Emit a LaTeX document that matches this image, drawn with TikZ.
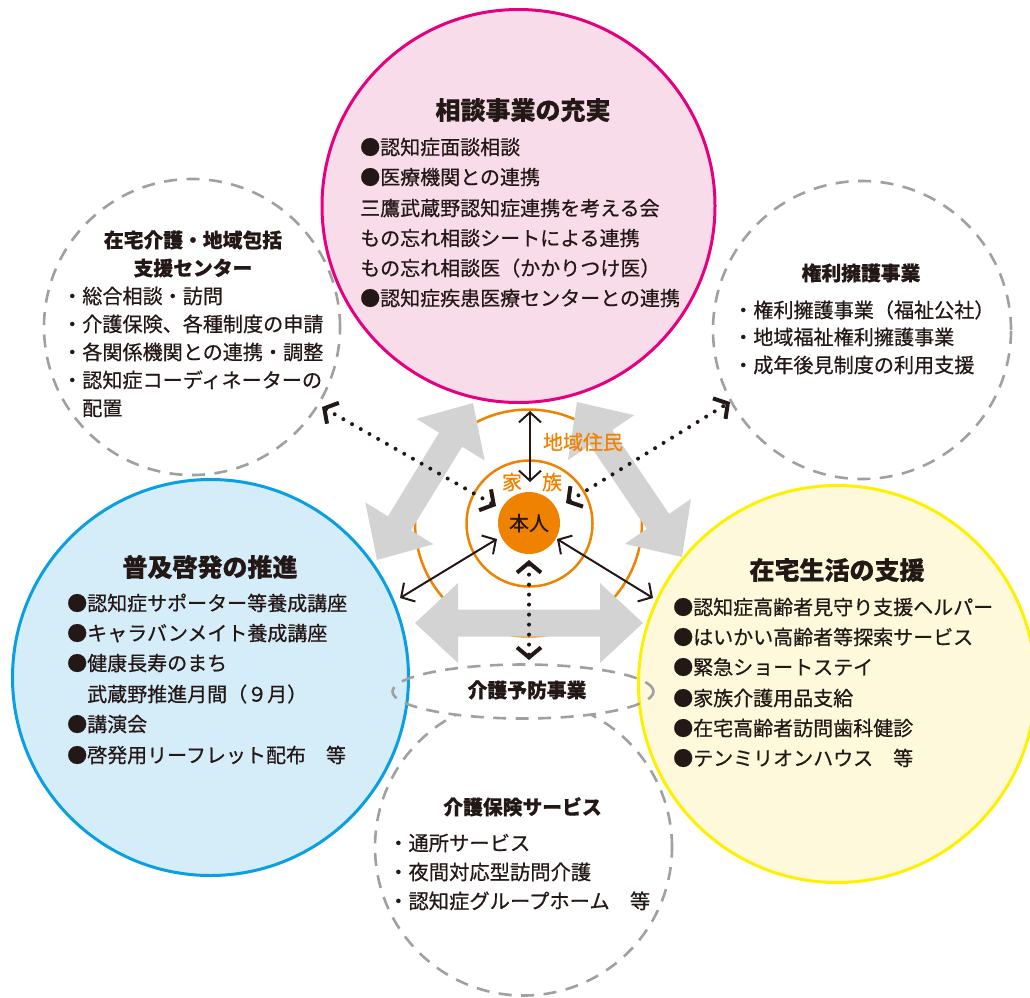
\documentclass[tikz,border=0pt]{standalone}
\usepackage{fontspec}
\setmainfont{Noto Sans CJK JP}[RawFeature={embolden=0.6}]
\usetikzlibrary{arrows.meta,calc,shapes.geometric}
\definecolor{ink}{HTML}{231815}
\definecolor{pinkfill}{HTML}{F9DCEA}
\definecolor{pinkline}{HTML}{E4007F}
\definecolor{bluefill}{HTML}{D5ECF9}
\definecolor{blueline}{HTML}{0A9EE2}
\definecolor{yellowfill}{HTML}{FFF9DC}
\definecolor{yellowline}{HTML}{FFF000}
\definecolor{orng}{HTML}{EF8200}
\definecolor{garrowcol}{HTML}{D3D3D3}
\definecolor{dgray}{HTML}{A0A0A0}
\tikzset{
  dashcirc/.style={circle, draw=dgray, line width=2.6pt, dash pattern=on 13pt off 9.5pt, inner sep=0pt},
  maincirc/.style={circle, line width=3pt, inner sep=0pt},
  orcirc/.style={circle, draw=orng, line width=2.5pt, inner sep=0pt},
  ttl/.style={font=\fontsize{25}{30}\selectfont\bfseries, text=ink, inner sep=0pt, text height=22pt, text depth=3pt},
  sttl/.style={font=\fontsize{19.8}{24}\selectfont\bfseries, text=ink, inner sep=0pt, text height=17.4pt, text depth=2.4pt},
  itm/.style={font=\fontsize{20}{24}\selectfont, text=ink, inner sep=0pt, text height=17.6pt, text depth=2.4pt, anchor=west},
  sitm/.style={font=\fontsize{20.1}{24}\selectfont, text=ink, inner sep=0pt, text height=17.6pt, text depth=2.4pt, anchor=west},
  olab/.style={font=\fontsize{20}{24}\selectfont, text=orng, inner sep=0pt, text height=17.6pt, text depth=2.4pt},
  solidarr/.style={draw=ink, line width=2pt, {Straight Barb[length=10pt,width=22pt]}-{Straight Barb[length=10pt,width=22pt]}},
  dotarr/.style={draw=ink, line width=4pt, line cap=round, dash pattern=on 0pt off 10pt, {Straight Barb[length=10pt,width=24pt,line width=4pt]}-{Straight Barb[length=10pt,width=24pt,line width=4pt]}}
}
\newcommand\garrow[3]{%
  \coordinate (#1a) at #2; \coordinate (#1b) at #3;
  \coordinate (#1p) at ($(#1a)!43pt!(#1b)$);
  \coordinate (#1q) at ($(#1b)!43pt!(#1a)$);
  \fill[garrowcol] (#1a) -- ($(#1p)!40pt!90:(#1b)$) -- ($(#1p)!13.5pt!90:(#1b)$)
    -- ($(#1q)!13.5pt!-90:(#1a)$) -- ($(#1q)!40pt!-90:(#1a)$) -- (#1b)
    -- ($(#1q)!40pt!90:(#1a)$) -- ($(#1q)!13.5pt!90:(#1a)$)
    -- ($(#1p)!13.5pt!-90:(#1b)$) -- ($(#1p)!40pt!-90:(#1b)$) -- cycle;}
\begin{document}
\begin{tikzpicture}[x=1pt,y=-1pt]
\useasboundingbox (0,0) rectangle (1030,997);
% dashed circles
\node[dashcirc, minimum size=296pt] (home) at (192,327) {};
\node[dashcirc, minimum size=298pt] (rights) at (862,330) {};
\node[dashcirc, minimum size=297pt] (insur) at (523.5,847) {};
% prevention ellipse background
\node[ellipse, fill=white, minimum width=261pt, minimum height=54pt, inner sep=0pt] (prevbg) at (523,691.5) {};
% main circles
\node[maincirc, draw=pinkline, fill=pinkfill, minimum size=393pt] (consult) at (518.5,206) {};
\node[maincirc, draw=blueline, fill=bluefill, minimum size=396pt] (aware) at (210.5,677.5) {};
\node[maincirc, draw=yellowline, fill=yellowfill, minimum size=397pt] (life) at (837,684) {};
% orange circles
\node[orcirc, minimum size=227pt] (resid) at (528.5,523) {};
\node[orcirc, minimum size=126pt] (family) at (529.5,523.5) {};
\node[circle, fill=orng, minimum size=62pt, inner sep=0pt] (self) at (529,523) {};
% grey double arrows
\garrow{gh}{(415,623)}{(643,623)}
\garrow{gl}{(377,560)}{(473,403)}
\garrow{gr}{(577,402)}{(682,557)}
% prevention ellipse outline
\node[ellipse, draw=dgray, line width=2.6pt, dash pattern=on 13pt off 9.5pt, minimum width=261pt, minimum height=54pt, inner sep=0pt] (prev) at (523,691.5) {};
% connectors
\coordinate (vt) at (530,411); \coordinate (vb) at (530,482);
\coordinate (ldl) at (322,407); \coordinate (ldc) at (496,506);
\coordinate (rdc) at (566,503); \coordinate (rdr) at (730,402);
\coordinate (bdt) at (529,560); \coordinate (bdb) at (529,660);
\coordinate (lsc) at (497,539); \coordinate (lse) at (400,598);
\coordinate (rsc) at (557,539); \coordinate (rse) at (653,598);
\draw[solidarr] (vt) -- (vb);
\draw[solidarr] (lsc) -- (lse);
\draw[solidarr] (rsc) -- (rse);
\draw[dotarr] (ldl) -- (ldc);
\draw[dotarr] (rdc) -- (rdr);
\draw[dotarr] (bdt) -- (bdb);
% centre labels
\node[olab] (lres) at (583,442) {地域住民};
\node[olab] (lfa1) at (512,482) {家};
\node[olab] (lfa2) at (552,482) {族};
\node[font=\fontsize{20}{24}\selectfont, text=ink, inner sep=0pt, text height=17.6pt, text depth=2.4pt] (lself) at (529,523) {本人};
% consult
\node[ttl] (t1) at (523,110) {相談事業の充実};
\node[itm] (c1) at (360,147) {●認知症面談相談};
\node[itm] (c2) at (360,177) {●医療機関との連携};
\node[itm] (c3) at (360,208) {三鷹武蔵野認知症連携を考える会};
\node[itm] (c4) at (360,238) {もの忘れ相談シートによる連携};
\node[itm] (c5) at (360,268) {もの忘れ相談医（かかりつけ医）};
\node[itm] (c6) at (360,298) {●認知症疾患医療センターとの連携};
% aware
\node[ttl] (t2) at (210,567) {普及啓発の推進};
\node[itm] (a1) at (67,603) {●認知症サポーター等養成講座};
\node[itm] (a2) at (67,633) {●キャラバンメイト養成講座};
\node[itm] (a3) at (67,663) {●健康長寿のまち};
\node[itm] (a4) at (67,694) {　武蔵野推進月間（９月）};
\node[itm] (a5) at (67,724) {●講演会};
\node[itm] (a6) at (67,755) {●啓発用リーフレット配布　等};
% life
\node[ttl] (t3) at (837,570) {在宅生活の支援};
\node[itm] (l1) at (673,607) {●認知症高齢者見守り支援ヘルパー};
\node[itm] (l2) at (673,637) {●はいかい高齢者等探索サービス};
\node[itm] (l3) at (673,667) {●緊急ショートステイ};
\node[itm] (l4) at (673,698) {●家族介護用品支給};
\node[itm] (l5) at (673,728) {●在宅高齢者訪問歯科健診};
\node[itm] (l6) at (673,758) {●テンミリオンハウス　等};
% home care
\node[sttl] (t4a) at (193,240) {在宅介護・地域包括};
\node[sttl] (t4b) at (193,268) {支援センター};
\node[sitm] (h1) at (62,296) {・総合相談・訪問};
\node[sitm] (h2) at (62,324) {・介護保険、各種制度の申請};
\node[sitm] (h3) at (62,352) {・各関係機関との連携・調整};
\node[sitm] (h4) at (62,380) {・認知症コーディネーターの};
\node[sitm] (h5) at (62,408) {　配置};
% rights
\node[sttl] (t5) at (861,273) {権利擁護事業};
\node[sitm] (r1) at (733,310) {・権利擁護事業（福祉公社）};
\node[sitm] (r2) at (733,337) {・地域福祉権利擁護事業};
\node[sitm] (r3) at (733,365) {・成年後見制度の利用支援};
% insurance
\node[sttl] (t6) at (522.5,807) {介護保険サービス};
\node[itm, font=\fontsize{20.3}{24}\selectfont] (i1) at (388,843) {・通所サービス};
\node[itm, font=\fontsize{20.3}{24}\selectfont] (i2) at (388,872) {・夜間対応型訪問介護};
\node[itm, font=\fontsize{20.3}{24}\selectfont] (i3) at (388,901) {・認知症グループホーム　等};
% prevention
\node[sttl] (t7) at (527,690) {介護予防事業};
\end{tikzpicture}
\end{document}
